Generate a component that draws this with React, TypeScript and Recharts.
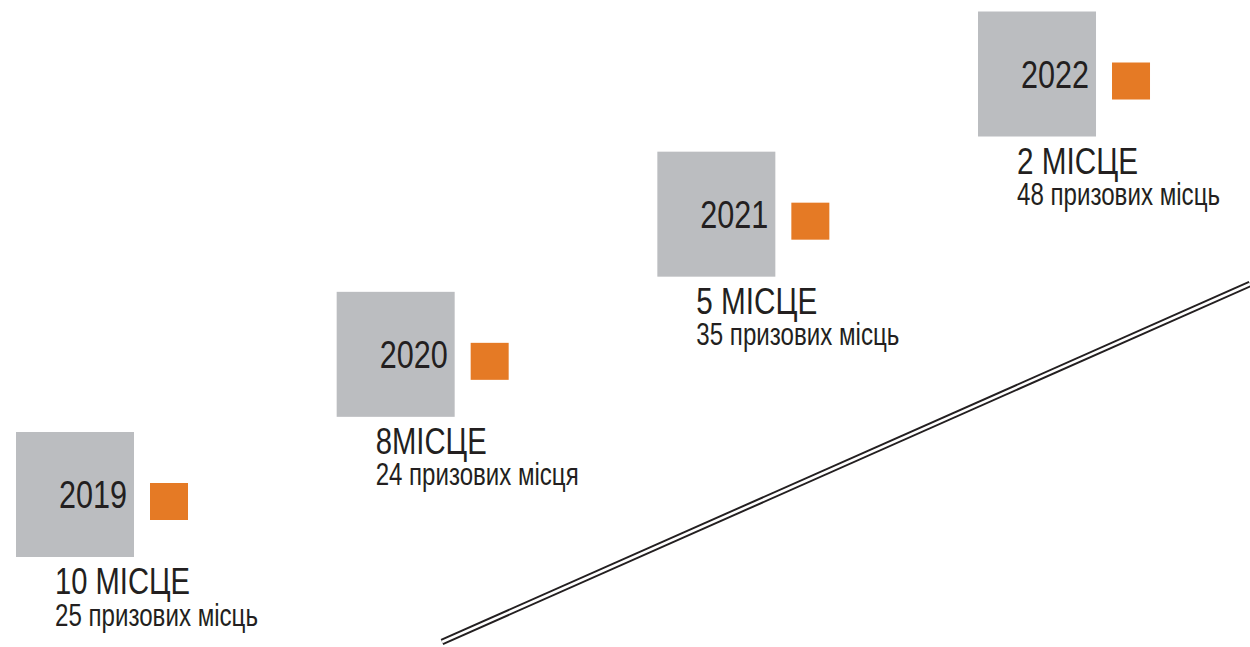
import React from 'react';
import { ScatterChart, Scatter, XAxis, YAxis, ReferenceLine } from 'recharts';

const years = ['2019', '2020', '2021', '2022'];
const ranks = [10, 8, 5, 2];
const rankLabels = ['10 МІСЦЕ', '8МІСЦЕ', '5 МІСЦЕ', '2 МІСЦЕ'];
const prizes = [25, 24, 35, 48];
const prizeLabels = ['призових місць', 'призових місця', 'призових місць', 'призових місць'];
const lineStart = { x: 1.1445, y: -1.0523 };
const lineEnd = { x: 3.6642, y: 1.5017 };

// text fitting widths (layout only)
const yearTextWidth = 68;
const rankTextWidths = [135, 111, 121, 121];
const prizeTextWidth = 203;

const data = years.map((year, i) => ({
  x: i,
  y: i,
  idx: i,
  year,
  rank: ranks[i],
  rankLabel: rankLabels[i],
  prize: prizes[i],
  prizeLabel: prizeLabels[i],
}));

const GRAY = '#bbbdc0';
const ORANGE = '#e57a25';
const INK = '#231f20';
const FONT = '"Liberation Sans", Arial, sans-serif';

const Step = (props: any) => {
  const { cx, cy, payload } = props;
  return (
    <g>
      <rect x={cx - 59} y={cy - 62.5} width={118} height={125} fill={GRAY} />
      <rect x={cx + 75} y={cy - 11.5} width={38} height={37} fill={ORANGE} />
      <text
        x={cx + 52}
        y={cy + 13.5}
        textAnchor="end"
        fontFamily={FONT}
        fontSize={39}
        fill={INK}
        textLength={yearTextWidth}
        lengthAdjust="spacingAndGlyphs"
      >
        {payload.year}
      </text>
      <text
        x={cx - 20}
        y={cy + 99.5}
        fontFamily={FONT}
        fontSize={36}
        fill={INK}
        textLength={rankTextWidths[payload.idx]}
        lengthAdjust="spacingAndGlyphs"
      >
        {payload.rankLabel}
      </text>
      <text
        x={cx - 20}
        y={cy + 131}
        fontFamily={FONT}
        fontSize={31}
        fill={INK}
        textLength={prizeTextWidth}
        lengthAdjust="spacingAndGlyphs"
      >
        {`${payload.prize} ${payload.prizeLabel}`}
      </text>
    </g>
  );
};

export default function App() {
  return (
    <div style={{ position: 'absolute', left: 0, top: 0, width: 1250, height: 647, background: '#fff' }}>
      <ScatterChart width={1250} height={647} margin={{ top: 0, right: 0, bottom: 0, left: 0 }}>
        <XAxis type="number" dataKey="x" domain={[-0.2339, 3.6642]} hide allowDataOverflow />
        <YAxis type="number" dataKey="y" domain={[-1.088, 3.528]} hide allowDataOverflow />
        <ReferenceLine segment={[lineStart, lineEnd]} stroke={INK} strokeWidth={6.5} ifOverflow="visible" />
        <ReferenceLine segment={[lineStart, lineEnd]} stroke="#ffffff" strokeWidth={2.6} ifOverflow="visible" />
        <Scatter data={data} shape={Step} isAnimationActive={false} />
      </ScatterChart>
    </div>
  );
}
